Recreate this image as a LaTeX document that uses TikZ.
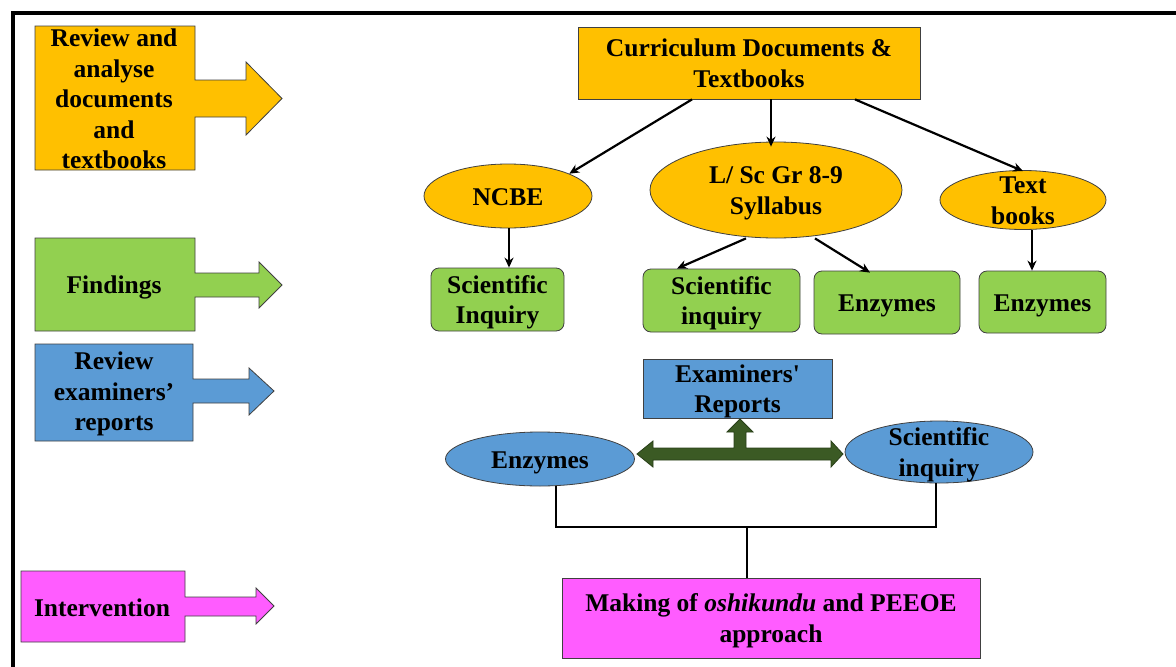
\documentclass[tikz,border=0pt]{standalone}
\usepackage{fontspec}
\setmainfont{Liberation Serif}[Ligatures=TeXOff]
\usetikzlibrary{shapes.geometric,arrows.meta}
\definecolor{cOrange}{HTML}{FFC000}
\definecolor{cGreen}{HTML}{92D050}
\definecolor{cBlue}{HTML}{5B9BD5}
\definecolor{cPink}{HTML}{FF5CFF}
\definecolor{cOlive}{HTML}{3B5A24}
\definecolor{cEdge}{HTML}{404040}
% centred lines that take no room, so a shape keeps its given size;
% the lines sit 3pt below the shape's centre
\newsavebox\lblbox
\newcommand\flattext[1]{%
  \sbox\lblbox{\begin{tabular}{@{}c@{}}#1\end{tabular}}%
  \makebox[0pt]{\raisebox{\dimexpr-0.5\ht\lblbox+0.5\dp\lblbox-3pt\relax}[0pt][0pt]{\usebox\lblbox}}}
\tikzset{
  lbl/.style={font=\fontsize{25.5}{30.5}\selectfont\bfseries, align=center, inner sep=0pt},
  shapetext/.style={font=\fontsize{25.5}{30.5}\selectfont\bfseries, inner sep=0pt},
  boxnode/.style={shapetext, draw=cEdge, line width=0.8pt, rectangle},
  roundbox/.style={boxnode, rounded corners=8pt, fill=cGreen},
  ellnode/.style={shapetext, draw=cEdge, line width=0.8pt, ellipse},
  blockarrow/.style={draw=cEdge, line width=0.8pt},
  link/.style={line width=2.2pt, -{Stealth[length=10pt,width=9pt]}},
  bracket/.style={line width=2.2pt}
}
\begin{document}
\begin{tikzpicture}[x=1pt,y=-1pt]
\useasboundingbox (0,0) rectangle (1176,667);
\fill[white] (0,0) rectangle (1176,667);
% outer frame
\draw[line width=4pt] (13,690) -- (13,13) -- (1190,13);

% stage labels on the left (box joined to a block arrow)
\filldraw[blockarrow, fill=cOrange] (35,26) -- (195,26) -- (195,80) -- (246,80) -- (246,62) -- (282,98.5)
  -- (246,135) -- (246,117) -- (195,117) -- (195,170) -- (35,170) -- cycle;
\node[lbl] (s1) at (114,99) {Review and\\analyse\\documents\\and\\textbooks};

\filldraw[blockarrow, fill=cGreen] (35,238) -- (195,238) -- (195,273) -- (259,273) -- (259,262) -- (282,285)
  -- (259,308) -- (259,297) -- (195,297) -- (195,331) -- (35,331) -- cycle;
\node[lbl] (s2) at (114,287) {Findings};

\filldraw[blockarrow, fill=cBlue] (35,344) -- (193,344) -- (193,379) -- (249,379) -- (249,368) -- (274,391)
  -- (249,415) -- (249,403) -- (193,403) -- (193,441) -- (35,441) -- cycle;
\node[lbl] (s3) at (114,394) {Review\\examiners’\\reports};

\filldraw[blockarrow, fill=cPink] (21,571) -- (185,571) -- (185,597) -- (256,597) -- (256,588) -- (274,606)
  -- (256,624) -- (256,616) -- (185,616) -- (185,642) -- (21,642) -- cycle;
\node[lbl] (s4) at (102,608) {Intervention};

% document review tree
\node[boxnode, fill=cOrange, minimum width=342pt, minimum height=72pt] (top) at (749,63)
  {\flattext{Curriculum Documents \&\\Textbooks}};
\node[ellnode, fill=cOrange, minimum width=168pt, minimum height=64pt] (ncbe) at (508,196) {\flattext{NCBE}};
\node[ellnode, fill=cOrange, minimum width=252pt, minimum height=96pt] (lsc) at (776,190) {\flattext{L/ Sc Gr 8-9\\Syllabus}};
\node[ellnode, fill=cOrange, minimum width=166pt, minimum height=59pt] (tb) at (1023,200) {\flattext{Text\\books}};

\node[roundbox, minimum width=133pt, minimum height=63pt] (sci1) at (497.5,299.5) {\flattext{Scientific\\Inquiry}};
\node[roundbox, minimum width=157pt, minimum height=63pt] (sci2) at (721.5,300.5) {\flattext{Scientific\\inquiry}};
\node[roundbox, minimum width=146pt, minimum height=63pt] (enz1) at (887,302.5) {\flattext{Enzymes}};
\node[roundbox, minimum width=127pt, minimum height=62pt] (enz2) at (1042.5,302) {\flattext{Enzymes}};

\draw[link] ([xshift=-57pt]top.south) -- (ncbe.20);
\draw[link] ([xshift=22pt]top.south) -- ([xshift=-5pt,yshift=-5pt]lsc.north);
\draw[link] ([xshift=106pt]top.south) -- ([yshift=-1pt]tb.north);
\draw[link] ([xshift=1pt]ncbe.south) -- ([xshift=11.5pt]sci1.north);
\draw[link] ([xshift=-30pt]lsc.south) -- ([xshift=-44.5pt]sci2.north);
\draw[link] ([xshift=39pt]lsc.south) -- ([xshift=-17pt,yshift=-2pt]enz1.north);
\draw[link] ([xshift=9pt]tb.south) -- ([xshift=-10.5pt]enz2.north);

% examiners' reports
\node[boxnode, fill=cBlue, minimum width=189pt, minimum height=59pt] (exam) at (737.5,388.5) {\flattext{Examiners'\\Reports}};
\node[ellnode, fill=cBlue, minimum width=189pt, minimum height=54pt] (enzb) at (540,459) {\flattext{Enzymes}};
\node[ellnode, fill=cBlue, minimum width=188pt, minimum height=62pt] (scib) at (939,452) {\flattext{Scientific\\inquiry}};

% double block arrow with branch up to the reports box
\filldraw[draw=cOlive!70!black, line width=0.8pt, fill=cOlive]
  (637,454) -- (653,441) -- (653,448) -- (734,448) -- (734,432) -- (727,432) -- (740,419)
  -- (753,432) -- (746,432) -- (746,448) -- (831,448) -- (831,441) -- (843,454)
  -- (831,467) -- (831,460) -- (653,460) -- (653,467) -- cycle;

% intervention
\node[boxnode, fill=cPink, minimum width=418pt, minimum height=80pt] (make) at (771,618)
  {\flattext{Making of \textit{oshikundu} and PEEOE\\approach}};

\coordinate (join) at (747,527);
\draw[bracket] ([xshift=16pt]enzb.south) |- (join) -| ([xshift=-3pt]scib.south);
\draw[bracket] (join) -- (join |- make.north);
\end{tikzpicture}
\end{document}
